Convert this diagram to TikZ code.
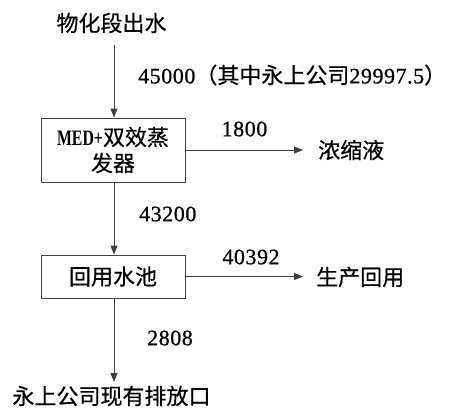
\documentclass[tikz,border=0pt]{standalone}
\usepackage{fontspec}
\setmainfont{Liberation Serif}[LetterSpace=2.5, FakeBold=0.8]
\newfontfamily\cjkf{Noto Sans CJK SC}[FakeBold=0.5]
\newfontfamily\medf{Liberation Serif}[FakeStretch=0.72]
\usetikzlibrary{arrows.meta}
\newcommand\zhtxt[1]{{\cjkf\fontsize{22}{26}\selectfont #1}}
\begin{document}
\begin{tikzpicture}[x=1pt,y=-1pt,
 lbl/.style={inner sep=0pt, font=\fontsize{22}{26}\selectfont, text=black},
 boxn/.style={draw=black!75, line width=0.9pt, minimum width=144pt, inner sep=0pt, align=center, font=\fontsize{22}{26}\selectfont},
 flow/.style={draw=black!75, line width=0.9pt, -{Triangle[length=9pt,width=7pt]}}]
\useasboundingbox (0,0) rectangle (455,407);
\node[lbl] (src) at (111.5,23) {\zhtxt{物化段出水}};
\node[boxn, minimum height=64pt] (med) at (113,150) {{\medf\bfseries MED+}\zhtxt{双效蒸}\\\zhtxt{发器}};
\node[boxn, minimum height=43pt] (pool) at (113,276.5) {\zhtxt{回用水池}};
\node[lbl, anchor=west] (q1) at (138,75) {45000\zhtxt{（其中永上公司}29997.5\zhtxt{）}};
\node[lbl] (q2) at (244.5,129) {1800};
\node[lbl, anchor=west] (conc) at (318,150) {\zhtxt{浓缩液}};
\node[lbl, anchor=west] (q3) at (139,214) {43200};
\node[lbl] (q4) at (251,257) {40392};
\node[lbl, anchor=west] (reuse) at (316,277) {\zhtxt{生产回用}};
\node[lbl, anchor=west] (q5) at (147,338) {2808};
\node[lbl] (dst) at (111.5,396) {\zhtxt{永上公司现有排放口}};
\coordinate (s1) at (114,45);
\coordinate (e1) at (303,150);
\coordinate (e2) at (303,276.5);
\coordinate (b1) at (114,382);
\draw[flow] (s1) -- (s1 |- med.north);
\draw[flow] (med.south -| s1) -- (pool.north -| s1);
\draw[flow] (pool.south -| s1) -- (b1);
\draw[flow] (med.east) -- (e1);
\draw[flow] (pool.east) -- (e2);
\end{tikzpicture}
\end{document}
